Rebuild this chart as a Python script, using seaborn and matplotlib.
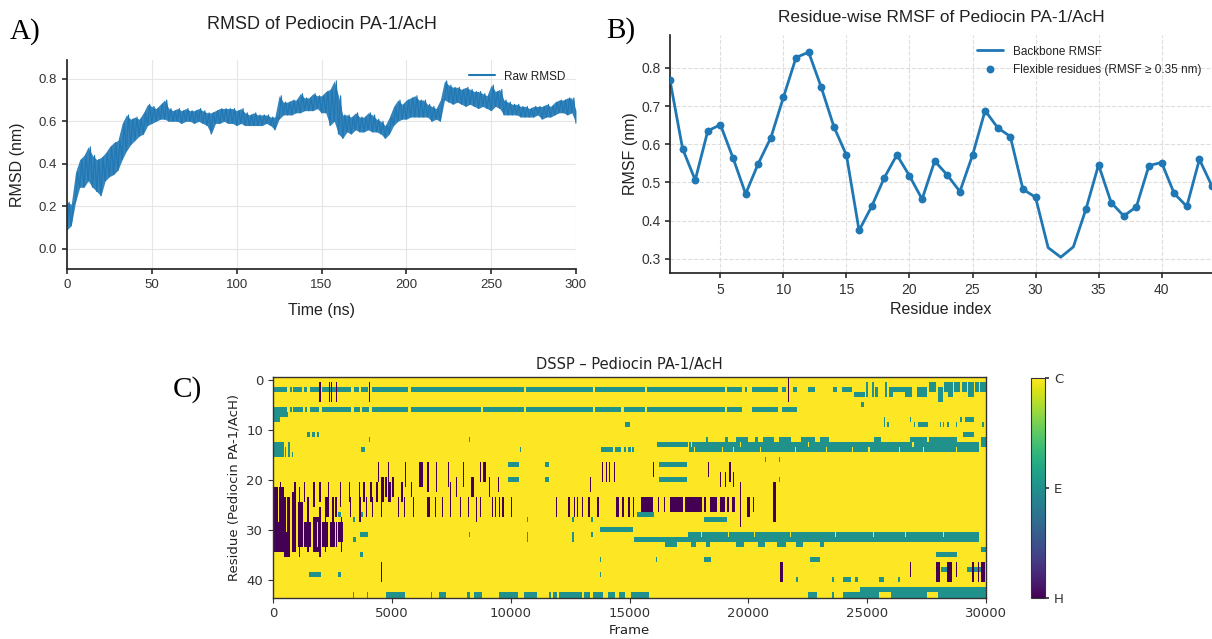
import numpy as np
import pandas as pd
import matplotlib
matplotlib.use("Agg")
import matplotlib.pyplot as plt
import seaborn as sns

# ── A) RMSD trace: lower / upper edge of the noisy band every 2.5 ns ─────────
rmsd_time = np.arange(0, 300.1, 2.5)
rmsd_low = [0.09, 0.11, 0.22, 0.29, 0.29, 0.32, 0.29, 0.27, 0.25, 0.32, 0.34, 0.35, 0.37,
            0.42, 0.46, 0.49, 0.51, 0.53, 0.54, 0.58, 0.59, 0.60, 0.61, 0.61, 0.60, 0.60,
            0.60, 0.59, 0.60, 0.60, 0.59, 0.60, 0.59, 0.58, 0.54, 0.59, 0.59, 0.60, 0.59,
            0.59, 0.58, 0.59, 0.58, 0.58, 0.58, 0.58, 0.58, 0.59, 0.58, 0.56, 0.61, 0.63,
            0.63, 0.63, 0.64, 0.64, 0.65, 0.65, 0.65, 0.66, 0.64, 0.64, 0.58, 0.60, 0.54,
            0.52, 0.55, 0.54, 0.56, 0.55, 0.55, 0.56, 0.55, 0.55, 0.54, 0.52, 0.54, 0.58,
            0.60, 0.61, 0.61, 0.62, 0.62, 0.62, 0.62, 0.62, 0.60, 0.61, 0.60, 0.70, 0.69,
            0.68, 0.69, 0.68, 0.67, 0.68, 0.67, 0.66, 0.67, 0.66, 0.65, 0.67, 0.66, 0.63,
            0.63, 0.63, 0.63, 0.62, 0.62, 0.62, 0.62, 0.63, 0.61, 0.62, 0.62, 0.63, 0.64,
            0.64, 0.63, 0.64, 0.59]
rmsd_high = [0.22, 0.21, 0.36, 0.42, 0.44, 0.48, 0.44, 0.42, 0.43, 0.45, 0.48, 0.50, 0.51,
             0.59, 0.63, 0.61, 0.62, 0.61, 0.64, 0.68, 0.67, 0.66, 0.68, 0.70, 0.66, 0.65,
             0.66, 0.65, 0.66, 0.65, 0.65, 0.66, 0.65, 0.64, 0.64, 0.65, 0.66, 0.66, 0.66,
             0.66, 0.65, 0.66, 0.64, 0.63, 0.64, 0.63, 0.63, 0.63, 0.62, 0.62, 0.72, 0.69,
             0.69, 0.70, 0.70, 0.73, 0.71, 0.71, 0.73, 0.72, 0.72, 0.74, 0.75, 0.79, 0.72,
             0.63, 0.63, 0.62, 0.64, 0.62, 0.62, 0.64, 0.63, 0.61, 0.60, 0.58, 0.62, 0.67,
             0.70, 0.68, 0.70, 0.71, 0.72, 0.70, 0.70, 0.68, 0.67, 0.66, 0.70, 0.79, 0.77,
             0.76, 0.76, 0.75, 0.76, 0.75, 0.74, 0.74, 0.73, 0.72, 0.77, 0.74, 0.75, 0.70,
             0.69, 0.68, 0.68, 0.67, 0.67, 0.66, 0.67, 0.67, 0.67, 0.68, 0.67, 0.69, 0.70,
             0.70, 0.71, 0.71, 0.65]

# ── B) per-residue RMSF ──────────────────────────────────────────────────────
residues = list(range(1, 45))
rmsf = [0.767, 0.588, 0.506, 0.635, 0.651, 0.564, 0.470, 0.549, 0.617, 0.723,
        0.827, 0.841, 0.749, 0.646, 0.571, 0.374, 0.437, 0.512, 0.572, 0.517,
        0.456, 0.556, 0.519, 0.476, 0.571, 0.688, 0.643, 0.620, 0.482, 0.461,
        0.329, 0.304, 0.331, 0.430, 0.546, 0.447, 0.412, 0.436, 0.544, 0.552,
        0.471, 0.437, 0.560, 0.490]
FLEX_CUT = 0.35

# ── C) DSSP map: blocks (frame_from, frame_to, row_from, row_to) ─────────────
n_res, n_frames = 44, 30000
e_blocks = [
    # residue 2 strand
    (0, 600, 2, 2), (700, 780, 2, 2), (850, 1200, 2, 2), (1300, 1450, 2, 2), (1550, 1950, 2, 2),
    (2050, 3300, 2, 2), (3400, 3600, 2, 2), (3700, 4000, 2, 2), (4150, 5700, 2, 2),
    (5800, 10550, 2, 2), (10650, 13450, 2, 2), (13550, 15650, 2, 2), (15750, 19000, 2, 2),
    (19100, 19750, 2, 2), (19850, 19950, 2, 2), (20150, 21250, 2, 2), (21400, 21600, 2, 2),
    (21900, 22050, 2, 2), (22500, 22800, 2, 2), (23550, 23750, 2, 2), (23950, 24350, 2, 2),
    (24450, 24900, 3, 3), (24950, 25050, 1, 3), (25200, 25300, 1, 3), (25350, 25450, 2, 3),
    (25750, 25850, 1, 3), (25900, 26100, 2, 3), (26100, 26600, 2, 2), (26600, 26900, 2, 3),
    (27100, 27500, 2, 3), (27600, 27900, 1, 2), (28000, 28200, 2, 4), (28250, 28400, 1, 2),
    (28400, 28600, 1, 3), (28650, 28900, 1, 2), (29000, 29200, 1, 2), (29250, 29500, 1, 3),
    (29550, 29700, 1, 2), (29750, 30000, 1, 2), (24750, 24850, 5, 5),
    # residue 6 strand
    (0, 600, 6, 6), (700, 780, 6, 6), (850, 1250, 6, 6), (1350, 1450, 6, 6), (1550, 1950, 6, 6),
    (2050, 3300, 6, 6), (3400, 3650, 6, 6), (3750, 4050, 6, 6), (4150, 5700, 6, 6),
    (5800, 8750, 6, 6), (8850, 10550, 6, 6), (10650, 13450, 6, 6), (13550, 14650, 6, 6),
    (14750, 15650, 6, 6), (15750, 19000, 6, 6), (19100, 19750, 6, 6), (20150, 21250, 6, 6),
    (21400, 22050, 6, 6),
    (0, 300, 7, 8), (300, 650, 7, 7),
    # residues 8-12
    (1450, 1550, 11, 11), (1650, 1750, 11, 11), (1850, 1950, 11, 11), (29050, 29500, 11, 11),
    (14800, 15020, 9, 9), (25700, 25750, 8, 9), (25850, 25900, 9, 9), (26800, 26850, 8, 8),
    (26950, 27000, 9, 9), (27150, 27550, 9, 9), (28050, 28100, 9, 9), (28200, 28250, 9, 9),
    (28350, 28450, 9, 9), (28750, 28800, 9, 9), (28900, 29000, 8, 8), (29100, 29500, 8, 8),
    (29850, 29900, 9, 9), (4050, 4100, 12, 12), (8250, 8300, 12, 12),
    # residues 13-15
    (0, 450, 13, 15), (500, 550, 14, 15), (650, 700, 13, 15), (800, 850, 15, 15),
    (3700, 3850, 14, 14), (10400, 10450, 14, 14), (13800, 14300, 14, 14), (14400, 14650, 14, 14),
    (14750, 14850, 14, 14), (14950, 15050, 14, 14), (15100, 15200, 14, 14),
    (16150, 17450, 13, 13), (17500, 29700, 13, 14),
    (18200, 18300, 12, 12), (19000, 19150, 12, 12), (19500, 20000, 12, 12), (20300, 20400, 12, 12),
    (20600, 21100, 12, 12), (21300, 21800, 12, 12), (22200, 22800, 12, 12), (23000, 23400, 12, 12),
    (25300, 25600, 12, 12), (26800, 27500, 12, 12), (27600, 28800, 12, 12), (29800, 30000, 12, 13),
    # residues 16-20
    (9900, 10350, 17, 17), (9900, 10350, 20, 20), (11450, 11600, 17, 17), (11450, 11600, 20, 20),
    (16250, 17400, 17, 17), (16250, 17400, 20, 20), (20700, 20750, 16, 16), (21300, 21350, 16, 16),
    (21300, 21350, 20, 20),
    # residues 27-33
    (15300, 16050, 27, 27), (2750, 2850, 27, 27), (3600, 3800, 27, 27),
    (18150, 19100, 28, 28), (3380, 3430, 28, 28), (10700, 10750, 28, 28), (12600, 12650, 28, 28),
    (13400, 13450, 28, 28), (13750, 15150, 30, 30),
    (3650, 4000, 31, 31), (3380, 3500, 32, 32), (8250, 8300, 31, 31), (10700, 10750, 31, 32),
    (12600, 12650, 31, 32), (13400, 13450, 31, 31), (15200, 17450, 32, 32), (17450, 29700, 31, 32),
    (16500, 17000, 33, 33), (17600, 17800, 33, 33), (18200, 18400, 33, 33), (19500, 19800, 33, 33),
    (20400, 20700, 33, 33), (21200, 21600, 33, 33), (22000, 22300, 33, 33), (23000, 23200, 33, 33),
    # residues 34-43
    (29800, 30000, 34, 34), (3650, 3800, 35, 35), (27900, 28800, 35, 35),
    (13750, 13800, 36, 36), (18150, 18450, 36, 36), (16100, 16150, 36, 36), (22600, 23000, 36, 36),
    (28100, 28350, 38, 38), (29200, 29800, 38, 38),
    (1500, 2000, 39, 39), (2750, 2850, 39, 39), (13750, 13800, 39, 39),
    (22000, 22100, 40, 40), (23500, 23600, 40, 40), (24000, 24300, 40, 40), (24500, 24600, 40, 40),
    (25500, 25700, 40, 40), (26300, 26400, 40, 40),
    (3350, 3400, 43, 43), (3950, 4000, 43, 43), (4750, 5550, 43, 43), (6650, 6700, 43, 43),
    (7000, 7300, 43, 43), (8150, 8300, 43, 43), (8450, 8800, 43, 43), (9500, 10300, 43, 43),
    (10550, 11100, 43, 43), (11600, 11700, 43, 43), (11800, 11950, 43, 43), (12050, 13000, 43, 43),
    (13100, 13350, 43, 43), (13450, 13900, 43, 43), (14100, 14400, 43, 43), (14550, 14800, 43, 43),
    (15050, 15800, 43, 43), (22500, 22900, 43, 43), (23500, 23600, 43, 43), (24000, 24700, 43, 43),
    (24700, 30000, 42, 42), (24700, 25500, 43, 43), (26000, 27500, 43, 43), (28000, 30000, 43, 43),
]
h_blocks = [
    # early helix cluster
    (0, 450, 22, 34), (450, 700, 24, 35), (800, 950, 23, 34), (1050, 1250, 25, 33),
    (1300, 1600, 29, 33), (1700, 2000, 28, 34), (2050, 2300, 29, 33), (2400, 2700, 29, 33),
    (2750, 2950, 29, 32),
    (600, 650, 24, 35), (1100, 1150, 22, 35), (1450, 1500, 24, 34), (1950, 2000, 26, 35),
    (2200, 2250, 24, 34), (2500, 2550, 24, 33), (2850, 2900, 28, 34),
    # stripes residues 20-24
    (300, 350, 21, 25), (900, 950, 21, 25), (1300, 1350, 21, 24), (1700, 1750, 21, 25),
    (1950, 2000, 21, 24), (2300, 2350, 21, 24), (2800, 2850, 21, 25), (3200, 3250, 21, 24),
    (3600, 3650, 21, 25), (3800, 3850, 21, 24), (4100, 4150, 21, 24), (4350, 4400, 21, 24),
    (4550, 4650, 20, 24), (4700, 4800, 20, 23), (4850, 4950, 21, 24), (5000, 5100, 20, 23),
    (5400, 5450, 21, 24), (5550, 5600, 17, 21), (5800, 5850, 21, 23), (6150, 6300, 17, 21),
    (6500, 6550, 17, 22), (6850, 6900, 17, 22), (7350, 7400, 17, 21), (7450, 7500, 21, 24),
    (7700, 7750, 20, 23), (8350, 8450, 20, 23), (9100, 9150, 20, 23), (9450, 9500, 20, 22),
    (13350, 13400, 20, 22), (18800, 18850, 19, 21), (19000, 19050, 19, 21), (19350, 19400, 19, 21),
    # stripes residues 24-27
    (2250, 2350, 24, 27), (2600, 2700, 24, 27), (3250, 3300, 24, 27), (3600, 3700, 24, 28),
    (3900, 3950, 24, 27), (4150, 4200, 24, 27), (4550, 4600, 24, 27), (5250, 5300, 24, 27),
    (5500, 5550, 24, 27), (5900, 5950, 24, 27), (6500, 6600, 24, 27), (6800, 6850, 24, 27),
    (7100, 7150, 24, 27), (7450, 7500, 24, 27), (7850, 7900, 24, 27), (8200, 8250, 24, 27),
    (8550, 8600, 24, 28), (8700, 8750, 24, 27), (9200, 9250, 24, 27), (9350, 9400, 24, 27),
    (9500, 9550, 24, 27), (9650, 9700, 24, 27), (10000, 10050, 24, 27), (11900, 11950, 24, 27),
    (12400, 12500, 24, 27), (12650, 12700, 24, 27), (12800, 12850, 24, 27), (13000, 13050, 24, 27),
    (13250, 13350, 24, 27), (13650, 13700, 24, 27), (14450, 14550, 24, 27), (14700, 14750, 24, 27),
    (14950, 15000, 24, 27), (15150, 15200, 24, 27),
    # stripes residues 17-20
    (4400, 4450, 17, 20), (4850, 4900, 17, 20), (8000, 8050, 17, 21), (8700, 8750, 17, 20),
    (8850, 8950, 17, 20), (13850, 13900, 17, 20), (14000, 14050, 17, 20), (14150, 14200, 17, 20),
    (14350, 14400, 17, 20), (16000, 16050, 17, 19), (18300, 18350, 17, 19), (19200, 19250, 17, 20),
    # helix block residues 24-26
    (15500, 16000, 24, 26), (16200, 16250, 24, 26), (16450, 16500, 24, 26), (16700, 17250, 24, 26),
    (17350, 18050, 24, 26), (18150, 18200, 24, 26), (18400, 18700, 24, 26), (18800, 19000, 24, 26),
    (19100, 19200, 24, 26), (19300, 19450, 24, 26),
    (19650, 19700, 21, 29), (19950, 20050, 24, 27), (20200, 20250, 24, 26), (21050, 21150, 21, 28),
    # N-terminal stripes
    (1950, 2000, 1, 4), (2350, 2400, 1, 4), (2450, 2500, 1, 4), (2650, 2700, 1, 4),
    (4050, 4100, 1, 4), (21650, 21700, 0, 4),
    # C-terminal stripes
    (4550, 4600, 37, 40), (21350, 21450, 37, 40), (26800, 26850, 37, 39), (27900, 28050, 37, 40),
    (28350, 28550, 37, 40), (28750, 28800, 37, 39), (29400, 29500, 37, 40), (29650, 29700, 37, 40),
    (29800, 29950, 37, 40),
]
# coil gaps inside the helix cluster and the 13-14 / 31-32 strands
c_blocks = [
    (200, 250, 22, 28), (550, 600, 24, 30), (750, 800, 24, 35), (1000, 1050, 24, 35),
    (1250, 1300, 25, 33), (1600, 1650, 28, 34), (1850, 1900, 29, 33), (2000, 2050, 28, 34),
    (2350, 2400, 29, 33), (2600, 2650, 29, 33), (2700, 2750, 29, 33),
    (17700, 17750, 14, 14), (18900, 18950, 14, 14), (19350, 19400, 14, 14), (20500, 20550, 14, 14),
    (21950, 22000, 14, 14), (23250, 23300, 14, 14), (24350, 24400, 14, 14), (25050, 25100, 14, 14),
    (26350, 26400, 14, 14), (27350, 27400, 14, 14), (28750, 28800, 14, 14),
    (17600, 17650, 13, 13), (19650, 19700, 13, 13), (22500, 22550, 13, 13), (26900, 26950, 13, 13),
    (18000, 18050, 31, 31), (19150, 19200, 31, 31), (20250, 20300, 31, 31), (21750, 21800, 31, 31),
    (23650, 23700, 31, 31), (25250, 25300, 31, 31), (26600, 26650, 31, 31), (28200, 28250, 31, 31),
]
state_labels = ["H", "E", "C"]

FRAME_BIN = 50
dssp = np.full((n_res, n_frames // FRAME_BIN), 2.0)
for code, blocks in ((1, e_blocks), (0, h_blocks), (2, c_blocks)):
    for f0, f1, r0, r1 in blocks:
        c0 = int(f0 // FRAME_BIN)
        c1 = max(c0 + 1, int(round(f1 / FRAME_BIN)))
        dssp[r0:r1 + 1, c0:c1] = code

# ── figure ───────────────────────────────────────────────────────────────────
sns.set_theme(style="ticks")
plt.rcParams["font.family"] = ["Liberation Sans", "DejaVu Sans"]
plt.rcParams["text.color"] = "#222222"
plt.rcParams["axes.labelcolor"] = "#222222"
plt.rcParams["xtick.color"] = "#333333"
plt.rcParams["ytick.color"] = "#333333"
blue = "#1f77b4"

fig = plt.figure(figsize=(12.12, 6.39), dpi=100)
W, H = 1212, 639


def px_axes(x0, y0, x1, y1):
    return fig.add_axes([x0 / W, 1 - y1 / H, (x1 - x0) / W, (y1 - y0) / H])


# A) RMSD
axA = px_axes(67, 60, 576, 269)
t_zig = np.column_stack([rmsd_time, rmsd_time + 1.25]).ravel()[:-1]
v_zig = np.column_stack([rmsd_low, rmsd_high]).ravel()[:-1]
dfA = pd.DataFrame({"time": t_zig, "rmsd": v_zig})
axA.fill_between(rmsd_time, rmsd_low, rmsd_high, color=blue, lw=0, alpha=0.9)
sns.lineplot(data=dfA, x="time", y="rmsd", ax=axA, color=blue, lw=0.8,
             estimator=None, sort=False, label="Raw RMSD")
axA.set_xlim(0, 300)
axA.set_ylim(-0.094, 0.888)
axA.set_yticks([0.0, 0.2, 0.4, 0.6, 0.8])
axA.set_xticks(range(0, 301, 50))
axA.grid(True, color="#e6e6e6", lw=0.8)
axA.set_axisbelow(True)
axA.set_xlabel("Time (ns)", fontsize=11.5, labelpad=9)
axA.set_ylabel("RMSD (nm)", fontsize=11.5, labelpad=10)
axA.tick_params(labelsize=9.5, length=3.5)
axA.set_title("RMSD of Pediocin PA-1/AcH", fontsize=13, pad=22)
legA = axA.legend(loc="upper right", frameon=False, fontsize=8.5, handlelength=2.2)
legA.get_lines()[0].set_linewidth(1.5)
sns.despine(ax=axA)

# B) RMSF
axB = px_axes(670, 35, 1212, 273)
dfB = pd.DataFrame({"residue": residues, "rmsf": rmsf})
sns.lineplot(data=dfB, x="residue", y="rmsf", ax=axB, color=blue, lw=2,
             label="Backbone RMSF")
sns.scatterplot(data=dfB[dfB["rmsf"] >= FLEX_CUT], x="residue", y="rmsf", ax=axB,
                color=blue, s=32, edgecolor=blue, linewidth=0, zorder=3,
                label="Flexible residues (RMSF \u2265 0.35 nm)")
axB.set_xlim(1, 44)
axB.set_ylim(0.2626, 0.886)
axB.set_xticks(range(5, 41, 5))
axB.set_yticks([0.3, 0.4, 0.5, 0.6, 0.7, 0.8])
axB.grid(True, color="#dddddd", lw=0.8, ls="--")
axB.set_axisbelow(True)
axB.set_xlabel("Residue index", fontsize=11.5, labelpad=4)
axB.set_ylabel("RMSF (nm)", fontsize=11.5, labelpad=2)
axB.tick_params(labelsize=10, length=3.5)
axB.set_title("Residue-wise RMSF of Pediocin PA-1/AcH", fontsize=12.4, pad=9)
axB.legend(loc="upper right", frameon=False, fontsize=8.5, handlelength=2.2)
sns.despine(ax=axB)

# C) DSSP
axC = px_axes(273, 377, 986, 597.5)
caxC = px_axes(1031, 378, 1045, 598)
sns.heatmap(dssp, ax=axC, cmap="viridis", vmin=0, vmax=2, cbar_ax=caxC,
            cbar_kws={"ticks": [0, 1, 2]}, xticklabels=False, yticklabels=False,
            rasterized=True)
axC.set_xticks(np.arange(0, n_frames // FRAME_BIN + 1, 5000 // FRAME_BIN))
axC.set_xticklabels([str(v) for v in range(0, n_frames + 1, 5000)], rotation=0)
axC.set_yticks(np.arange(0, 41, 10) + 0.5)
axC.set_yticklabels([str(v) for v in range(0, 41, 10)], rotation=0)
for s in axC.spines.values():
    s.set_visible(True)
    s.set_color("#333333")
    s.set_linewidth(1)
dejavu = ["DejaVu Sans"]
axC.tick_params(labelsize=9.5, length=3.5, width=0.8, bottom=True, left=True,
                labelfontfamily="DejaVu Sans")
axC.set_xlabel("Frame", fontsize=9.5, family=dejavu, labelpad=3)
axC.set_ylabel("Residue (Pediocin PA-1/AcH)", fontsize=9.5, family=dejavu, labelpad=4)
axC.set_title("DSSP \u2013 Pediocin PA-1/AcH", fontsize=10.5, family=dejavu, pad=6)
cb = axC.collections[0].colorbar
cb.outline.set_linewidth(0.8)
cb.outline.set_edgecolor("#333333")
cb.set_ticklabels(state_labels)
caxC.tick_params(labelsize=9.5, length=3, labelfontfamily="DejaVu Sans")

# panel letters
for letter, x, y in (("A)", 10, 32), ("B)", 606, 31), ("C)", 173, 390)):
    fig.text(x / W, 1 - y / H, letter, fontsize=21, family="Liberation Serif",
             color="black", va="center", ha="left")

fig.savefig("out.png", dpi=100)
